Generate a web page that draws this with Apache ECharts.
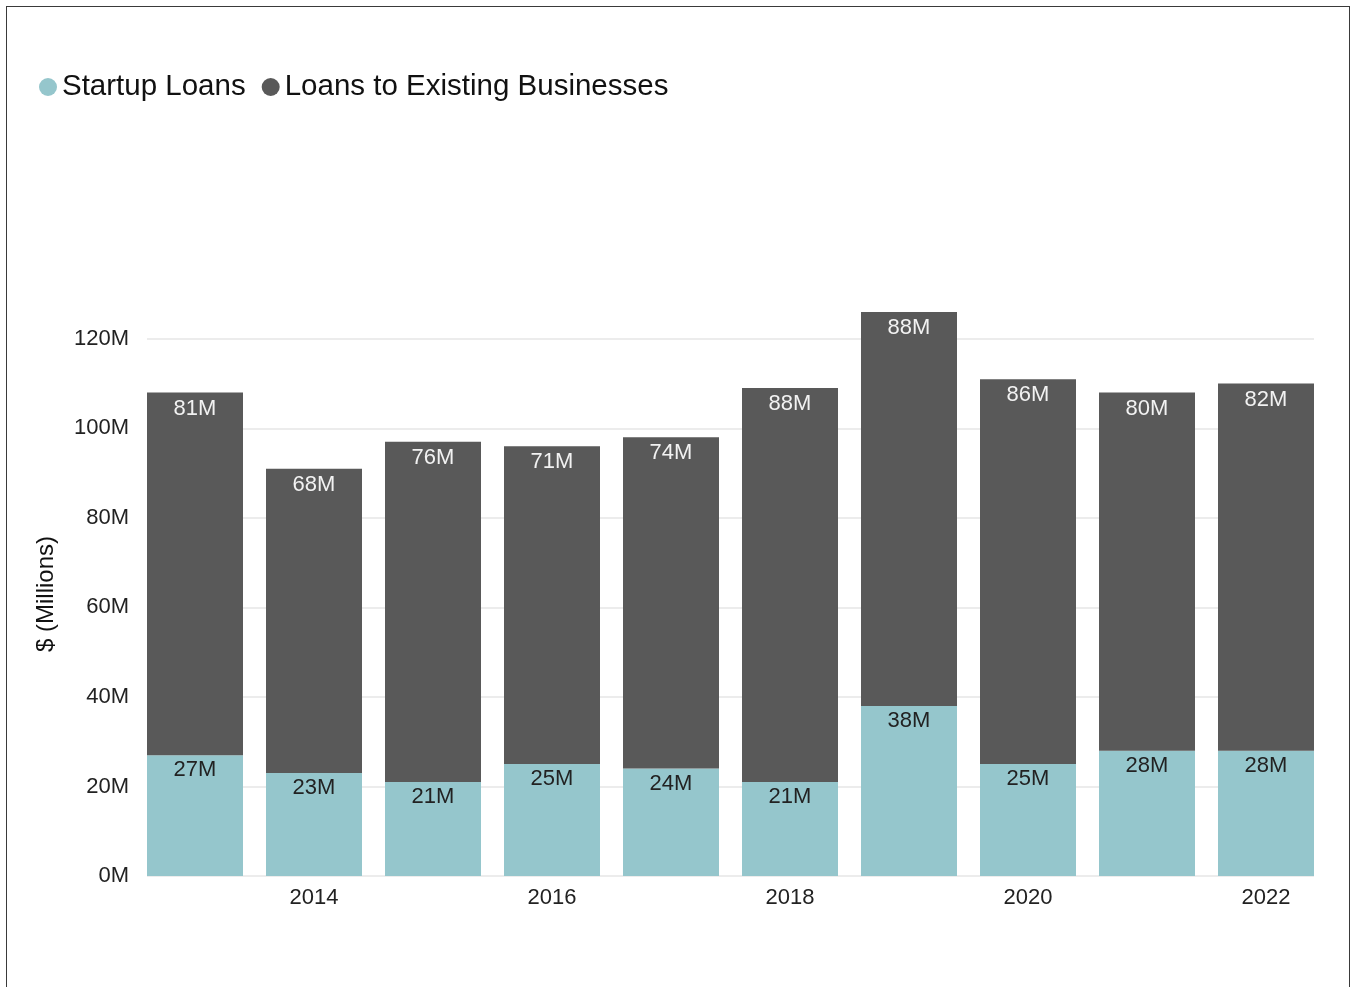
<!DOCTYPE html>
<html>
<head>
<meta charset="utf-8">
<script src="https://cdn.jsdelivr.net/npm/echarts@6/dist/echarts.min.js"></script>
<style>
  html, body { margin: 0; padding: 0; background: #fff; }
  #chart { position: absolute; left: 0; top: 0; width: 1351px; height: 987px; }
  #frame { position: absolute; left: 6px; top: 6px; width: 1342px; height: 1000px;
           border: 1px solid #3a3a3a; border-bottom: none; pointer-events: none; }
</style>
</head>
<body>
<div id="chart"></div>
<div id="frame"></div>
<script>
const years = ['2013','2014','2015','2016','2017','2018','2019','2020','2021','2022'];
const startupLoans = [27, 23, 21, 25, 24, 21, 38, 25, 28, 28];
const existingLoans = [81, 68, 76, 71, 74, 88, 88, 86, 80, 82];
const seriesNames = ['Startup Loans', 'Loans to Existing Businesses'];
const yAxisName = '$ (Millions)';

const totals = years.map((_, i) => startupLoans[i] + existingLoans[i]);
const yMax = Math.max.apply(null, totals);

const font = 'Liberation Sans, Arial, sans-serif';
const chart = echarts.init(document.getElementById('chart'), null, { renderer: 'canvas' });

chart.setOption({
  animation: false,
  textStyle: { fontFamily: font },
  legend: {
    left: 34, top: 67,
    icon: 'circle', itemWidth: 18, itemHeight: 18, itemGap: 16,
    textStyle: { fontSize: 29.5, color: '#111', fontFamily: font },
    data: seriesNames
  },
  grid: [
    { left: 135.5, right: 25.5, top: 312, bottom: 111 },
    { left: 147, right: 37, top: 312, bottom: 111 }
  ],
  xAxis: [
    {
      type: 'category', gridIndex: 0, data: years,
      axisLine: { show: false }, axisTick: { show: false },
      axisLabel: { interval: (i) => i % 2 === 1, fontSize: 22, color: '#222', margin: 11, fontFamily: font },
      splitLine: { show: false }
    },
    { type: 'value', gridIndex: 1, min: 0, max: 1, show: false }
  ],
  yAxis: [
    { type: 'value', gridIndex: 0, min: 0, max: yMax, show: false, splitLine: { show: false } },
    {
      type: 'value', gridIndex: 1, min: 0, max: yMax, interval: 20,
      axisLine: { show: false }, axisTick: { show: false },
      axisLabel: { formatter: '{value}M', fontSize: 22, color: '#222', margin: 18, showMaxLabel: false, fontFamily: font },
      splitLine: { show: true, showMaxLine: false, lineStyle: { color: '#e6e6e6', width: 1.5 } },
      name: yAxisName, nameLocation: 'middle', nameGap: 89,
      nameTextStyle: { fontSize: 24, color: '#111', fontFamily: font }
    }
  ],
  series: [
    {
      name: seriesNames[0], type: 'bar', stack: 'total', xAxisIndex: 0, yAxisIndex: 0,
      barWidth: 96, data: startupLoans,
      itemStyle: { color: '#95c6cc' },
      label: { show: true, position: 'insideTop', distance: 4, formatter: '{c}M', fontSize: 22, color: '#222', fontFamily: font }
    },
    {
      name: seriesNames[1], type: 'bar', stack: 'total', xAxisIndex: 0, yAxisIndex: 0,
      barWidth: 96, data: existingLoans,
      itemStyle: { color: '#595959' },
      label: { show: true, position: 'insideTop', distance: 5, formatter: '{c}M', fontSize: 22, color: '#f2f2f2', fontFamily: font }
    }
  ]
});
</script>
</body>
</html>
